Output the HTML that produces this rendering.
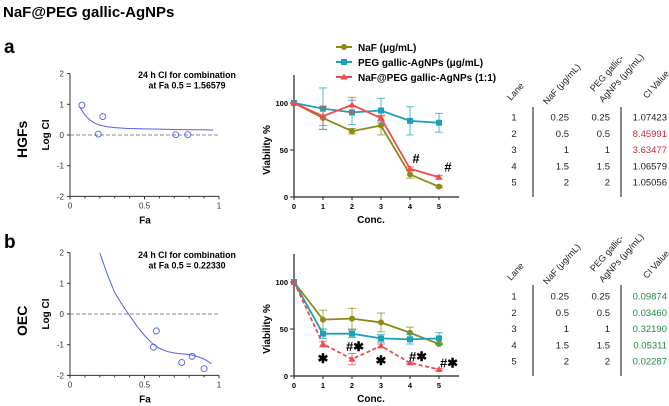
<!DOCTYPE html>
<html><head><meta charset="utf-8">
<style>
body{margin:0;background:#fff;}
svg{display:block;font-family:"Liberation Sans",Arial,sans-serif;}
</style></head>
<body>
<svg id="s" width="669" height="406" viewBox="0 0 669 406" xmlns="http://www.w3.org/2000/svg">
<text x="3" y="17" font-size="15" font-weight="bold">NaF@PEG gallic-AgNPs</text>
<text x="4" y="53" font-size="19" font-weight="bold">a</text>
<text x="4" y="248" font-size="19" font-weight="bold">b</text>
<text transform="translate(27,158) rotate(-90)" font-size="14" font-weight="bold">HGFs</text>
<text transform="translate(27,336) rotate(-90)" font-size="14" font-weight="bold">OEC</text>
<g id="g"></g>
</svg>
<script>
// ---- CI plot data ----
const ciA_fa=[0.08,0.19,0.22,0.71,0.79];
const ciA_log=[0.97,0.03,0.6,0.01,0.01];
const ciA_curveFa=[0.06,0.08,0.1,0.13,0.16,0.2,0.25,0.3,0.4,0.5,0.6,0.7,0.8,0.9,0.96];
const ciA_curveLog=[0.95,0.8,0.65,0.5,0.4,0.32,0.27,0.24,0.21,0.2,0.19,0.18,0.17,0.17,0.16];
const ciB_fa=[0.56,0.58,0.75,0.82,0.9];
const ciB_log=[-1.08,-0.55,-1.58,-1.38,-1.78];
const ciB_curveFa=[0.2,0.25,0.3,0.35,0.4,0.45,0.5,0.55,0.6,0.65,0.7,0.75,0.8,0.85,0.9,0.95];
const ciB_curveLog=[2.1,1.3,0.7,0.3,-0.05,-0.4,-0.7,-0.95,-1.12,-1.22,-1.27,-1.3,-1.32,-1.38,-1.47,-1.62];
const ciTicksX=["0","0.5","1"];
const ciTicksY=["2","1","0","-1","-2"];
// ---- viability data ----
const conc=["0","1","2","3","4","5"];
const aNaF=[100,84,70,76,24,11], aNaFErr=[0,12,3,10,4,1];
const aPEG=[100,94,90,92,81,79], aPEGErr=[0,22,13,13,15,10];
const aCombo=[100,86,98,84,30,21], aComboErr=[0,10,8,3,2,2];
const bNaF=[100,60,61,57,46,34], bNaFErr=[0,10,11,10,6,1];
const bPEG=[100,45,45,40,39,40], bPEGErr=[0,5,4,4,5,6];
const bCombo=[100,34,18,32,14,7], bComboErr=[0,3,6,2,1,1];
const aMarks=["","","","","#","#"];
const bMarks=["","*","#*","*","#*","#*"];
const vTicks=[0,50,100];
// ---- table data ----
const lanes=["1","2","3","4","5"];
const naf=["0.25","0.5","1","1.5","2"];
const peg=["0.25","0.5","1","1.5","2"];
const ciValA=["1.07423","8.45991","3.63477","1.06579","1.05056"];
const ciValB=["0.09874","0.03460","0.32190","0.05311","0.02287"];
const ciColA=["#222","#c8283c","#c8283c","#222","#222"];

const NS="http://www.w3.org/2000/svg";
const G=document.getElementById('g');
function mk(t,a,p){const e=document.createElementNS(NS,t);for(const k in a)e.setAttribute(k,a[k]);(p||G).appendChild(e);return e;}

function ciPlot(top,zeroY,fa,lg,cf,cl,txt,nm){
  const x=v=>70+v*149, y=v=>zeroY-v*30.7;
  const g=mk('g',{});
  
  
  mk('line',{x1:70,y1:y(2),x2:70,y2:y(-2),stroke:'#333','stroke-width':1},g);
  mk('line',{x1:70,y1:y(-2),x2:219,y2:y(-2),stroke:'#333','stroke-width':1},g);
  ciTicksY.forEach(t=>{const yy=y(+t);mk('line',{x1:67,y1:yy,x2:70,y2:yy,stroke:'#333'},g);
    const tx=mk('text',{x:64,y:yy+3,'font-size':8,'text-anchor':'end',fill:'#333'},g);tx.textContent=t;});
  for(let i=0;i<=10;i++){const xx=x(i/10);mk('line',{x1:xx,y1:y(-2),x2:xx,y2:y(-2)+(i%5?2:3),stroke:'#333'},g);}
  ciTicksX.forEach(t=>{const tx=mk('text',{x:x(+t),y:y(-2)+12,'font-size':8,'text-anchor':'middle',fill:'#333'},g);tx.textContent=t;});
  let l=mk('text',{x:145,y:y(-2)+27,'font-size':10,'font-weight':'bold','text-anchor':'middle'},g);l.textContent='Fa';
  l=mk('text',{transform:`translate(49,${zeroY}) rotate(-90)`,'font-size':10,'font-weight':'bold','text-anchor':'middle'},g);l.textContent='Log CI';
  mk('line',{x1:70,y1:y(0),x2:219,y2:y(0),stroke:'#666','stroke-dasharray':'4,2','stroke-width':0.8},g);
  const c=mk('polyline',{points:cf.map((v,i)=>x(v)+','+Math.max(y(cl[i]),top)).join(' '),fill:'none',stroke:'#5060ee','stroke-width':1},g);
  
  fa.forEach((v,i)=>{const p=mk('circle',{cx:x(v),cy:y(lg[i]),r:3,fill:'none',stroke:'#5060ee','stroke-width':0.9},g);
    });
  txt.forEach((t,i)=>{const tx=mk('text',{x:187,y:top+5+i*10.5,'font-size':8.8,'font-weight':'bold','text-anchor':'middle'},g);tx.textContent=t;});
}
ciPlot(73,135,ciA_fa,ciA_log,ciA_curveFa,ciA_curveLog,["24 h CI for combination","at Fa 0.5 = 1.56579"],'ci-plot-hgfs');
ciPlot(253,314,ciB_fa,ciB_log,ciB_curveFa,ciB_curveLog,["24 h CI for combination","at Fa 0.5 = 0.22330"],'ci-plot-oec');

function vPlot(zeroY,topY,series,marks,nm){
  const x=i=>294+i*29, y=v=>zeroY-v*0.94;
  const g=mk('g',{});
  
  
  mk('line',{x1:294,y1:topY,x2:294,y2:zeroY,stroke:'#222','stroke-width':1.2},g);
  mk('line',{x1:294,y1:zeroY,x2:459,y2:zeroY,stroke:'#222','stroke-width':1.2},g);
  vTicks.forEach(t=>{mk('line',{x1:290,y1:y(t),x2:294,y2:y(t),stroke:'#222'},g);
    const tx=mk('text',{x:288,y:y(t)+3,'font-size':7.5,'font-weight':'bold','text-anchor':'end'},g);tx.textContent=t;});
  conc.forEach((c,i)=>{mk('line',{x1:x(i),y1:zeroY,x2:x(i),y2:zeroY+3,stroke:'#222'},g);
    const tx=mk('text',{x:x(i),y:zeroY+12,'font-size':7.5,'font-weight':'bold','text-anchor':'middle'},g);tx.textContent=c;});
  let l=mk('text',{x:371,y:zeroY+26,'font-size':10,'font-weight':'bold','text-anchor':'middle'},g);l.textContent='Conc.';
  l=mk('text',{transform:`translate(270,${y(50)}) rotate(-90)`,'font-size':10,'font-weight':'bold','text-anchor':'middle'},g);l.textContent='Viability %';
  series.forEach(s=>{
    s.v.forEach((v,i)=>{if(s.e[i]){mk('line',{x1:x(i),y1:y(v+s.e[i]),x2:x(i),y2:y(v-s.e[i]),stroke:s.c,'stroke-width':0.9,opacity:0.8},g);
      [v+s.e[i],v-s.e[i]].forEach(w=>mk('line',{x1:x(i)-4,y1:y(w),x2:x(i)+4,y2:y(w),stroke:s.c,'stroke-width':0.9,opacity:0.8},g));}});
    const pl=mk('polyline',{points:s.v.map((v,i)=>x(i)+','+y(v)).join(' '),fill:'none',stroke:s.c,'stroke-width':1.8,'stroke-dasharray':s.d||'none'},g);
    
    s.v.forEach((v,i)=>{let m;
      if(s.m=='c')m=mk('circle',{cx:x(i),cy:y(v),r:3,fill:s.c},g);
      else if(s.m=='s')m=mk('rect',{x:x(i)-3,y:y(v)-3,width:6,height:6,fill:s.c},g);
      else m=mk('polygon',{points:`${x(i)},${y(v)-3.5} ${x(i)-3.5},${y(v)+2.5} ${x(i)+3.5},${y(v)+2.5}`,fill:s.c},g);
      });
  });
  marks.forEach((mTxt,i)=>{if(!mTxt)return;const base=y(series[2].v[i]);
    let dx=0,dy;
    if(mTxt=='*'){dy=19;}
    else if(mTxt=='#'){dx=(i==5?9:6);dy=-6;}
    else {dx=(i==5?10:i==4?8:3);dy=(i==2?-8:-2);}
    const tx=mk('text',{x:x(i)+dx,y:base+dy,'font-size':13,'font-weight':'bold','text-anchor':'middle'},g);
    tx.textContent=mTxt.replace('*','✱');
    });
}
const OL='#8b8b14',TL='#1ba1b8',RD='#f04a4f';
vPlot(197,75,[{v:aNaF,e:aNaFErr,c:OL,m:'c',n:'line-naf-hgfs'},{v:aPEG,e:aPEGErr,c:TL,m:'s',n:'line-peg-hgfs'},{v:aCombo,e:aComboErr,c:RD,m:'t',n:'line-combo-hgfs'}],aMarks,'viability-plot-hgfs');
vPlot(376,254,[{v:bNaF,e:bNaFErr,c:OL,m:'c',n:'line-naf-oec'},{v:bPEG,e:bPEGErr,c:TL,m:'s',n:'line-peg-oec'},{v:bCombo,e:bComboErr,c:RD,m:'t',n:'line-combo-oec',d:'4,2.5'}],bMarks,'viability-plot-oec');

// legend
[["NaF (μg/mL)",OL,'c'],["PEG gallic-AgNPs (μg/mL)",TL,'s'],["NaF@PEG gallic-AgNPs (1:1)",RD,'t']].forEach((L,i)=>{
  const yy=47+i*15;const g=mk('g',{});
  
  mk('line',{x1:336,y1:yy,x2:352,y2:yy,stroke:L[1],'stroke-width':2},g);
  if(L[2]=='c')mk('circle',{cx:344,cy:yy,r:3,fill:L[1]},g);
  else if(L[2]=='s')mk('rect',{x:341,y:yy-3,width:6,height:6,fill:L[1]},g);
  else mk('polygon',{points:`344,${yy-3.5} 340.5,${yy+2.5} 347.5,${yy+2.5}`,fill:L[1]},g);
  const t=mk('text',{x:358,y:yy+4,'font-size':10,'font-weight':'bold'},g);t.textContent=L[0];
});

function table(row1,lineTop,lineBot,hdrY,ci,cols,nm){
  const g=mk('g',{});
  
  const hdr=[[511,hdrY,"Lane"],[547,hdrY+4,"NaF (μg/mL)"],[594,hdrY-9,"PEG gallic-"],[603,hdrY+2,"AgNPs (μg/mL)"],[647,hdrY-2,"CI Value"]];
  hdr.forEach(h=>{const t=mk('text',{transform:`translate(${h[0]},${h[1]}) rotate(-48)`,'font-size':9,fill:'#222'},g);t.textContent=h[2];});
  mk('line',{x1:533,y1:lineTop,x2:533,y2:lineBot,stroke:'#444','stroke-width':1.3},g);
  mk('line',{x1:621,y1:lineTop,x2:621,y2:lineBot,stroke:'#444','stroke-width':1.3},g);
  lanes.forEach((ln,i)=>{const yy=row1+i*16.3+3.5;
    let t=mk('text',{x:514,y:yy,'font-size':9.5,'text-anchor':'middle',fill:'#222'},g);t.textContent=ln;
    t=mk('text',{x:569,y:yy,'font-size':9.5,'text-anchor':'end',fill:'#222'},g);t.textContent=naf[i];
    t=mk('text',{x:610,y:yy,'font-size':9.5,'text-anchor':'end',fill:'#222'},g);t.textContent=peg[i];
    t=mk('text',{x:667,y:yy,'font-size':9.5,'text-anchor':'end',fill:cols[i]},g);t.textContent=ci[i];
    
  });
}
table(117,107,197,101,ciValA,ciColA,'ci-table-hgfs');
table(296,285,376,281,ciValB,ciValB.map(()=>'#1e8a3c'),'ci-table-oec');
</script>
</body></html>
